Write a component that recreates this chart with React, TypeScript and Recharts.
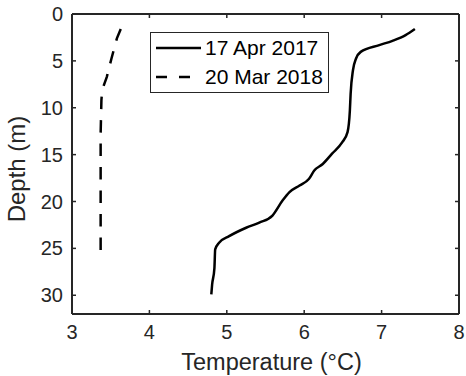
import React from 'react';
import { LineChart, Line, XAxis, YAxis, ReferenceLine } from 'recharts';

// 17 Apr 2017 profile (temperature °C, depth m)
const APR_TEMP = [7.43, 7.31, 7.14, 6.97, 6.73, 6.67, 6.63, 6.6, 6.59, 6.56, 6.49, 6.36, 6.24, 6.13, 6.06, 5.94, 5.81, 5.72, 5.59, 5.42, 5.25, 5.03, 4.9, 4.85, 4.84, 4.81, 4.8];
const APR_DEPTH = [1.6, 2.25, 2.86, 3.32, 4.04, 4.75, 6.0, 8.5, 10.3, 12.6, 13.7, 14.9, 16.0, 16.7, 17.6, 18.3, 19.0, 19.9, 21.5, 22.25, 22.8, 23.7, 24.4, 25.1, 27.1, 28.9, 29.9];

// 20 Mar 2018 profile
const MAR_TEMP = [3.63, 3.58, 3.51, 3.45, 3.39, 3.38, 3.37, 3.37];
const MAR_DEPTH = [1.6, 2.6, 4.75, 6.7, 8.1, 9.2, 12.8, 25.3];

const X_TICKS = [3, 4, 5, 6, 7, 8];
const Y_TICKS = [0, 5, 10, 15, 20, 25, 30];
const X_DOMAIN = [3, 8];
const Y_DOMAIN = [0, 32];

const SERIES_LABELS = ['17 Apr 2017', '20 Mar 2018'];

const FONT = '"Liberation Sans", Arial, Helvetica, sans-serif';
const INK = '#262626';
const AXIS_LINE = { stroke: INK, strokeWidth: 2 };

// plot box (layout only)
const W = 466;
const H = 376;
const M = { top: 14, right: 7, bottom: 0, left: 0 };
const Y_AXIS_W = 72;
const X_AXIS_H = 62;
const PLOT_TOP = M.top;
const PLOT_BOTTOM = H - M.bottom - X_AXIS_H;
const PLOT_LEFT = M.left + Y_AXIS_W;
const PLOT_RIGHT = W - M.right;
const TICK_LEN = 4;

const aprData = APR_TEMP.map((t, i) => ({ t, d: APR_DEPTH[i] }));
const marData = MAR_TEMP.map((t, i) => ({ t, d: MAR_DEPTH[i] }));

const DASH = '12.5 11';

// x tick: label plus inward tick marks on bottom and top edges
const XTick = ({ x, y, payload }: any) => (
  <g>
    <line x1={x} x2={x} y1={PLOT_BOTTOM} y2={PLOT_BOTTOM - TICK_LEN} stroke={INK} strokeWidth={1.5} />
    <line x1={x} x2={x} y1={PLOT_TOP} y2={PLOT_TOP + TICK_LEN} stroke={INK} strokeWidth={1.5} />
    <text x={x} y={y} dy="0.71em" textAnchor="middle" fill={INK} fontSize={20} fontFamily={FONT}>
      {payload.value}
    </text>
  </g>
);

const YTick = ({ x, y, payload }: any) => (
  <g>
    <line x1={PLOT_LEFT} x2={PLOT_LEFT + TICK_LEN} y1={y} y2={y} stroke={INK} strokeWidth={1.5} />
    <line x1={PLOT_RIGHT} x2={PLOT_RIGHT - TICK_LEN} y1={y} y2={y} stroke={INK} strokeWidth={1.5} />
    <text x={x} y={y} dy="0.355em" textAnchor="end" fill={INK} fontSize={20} fontFamily={FONT}>
      {payload.value}
    </text>
  </g>
);

export default function App() {
  return (
    <div style={{ position: 'relative', width: W, height: H, fontFamily: FONT }}>
      <style>{'body{margin:0;background:#fff}'}</style>
      <LineChart width={W} height={H} margin={M}>
        <XAxis xAxisId="x" type="number" dataKey="t" domain={X_DOMAIN} ticks={X_TICKS} allowDataOverflow
          height={X_AXIS_H} tick={<XTick />} axisLine={AXIS_LINE} tickLine={false} tickSize={0} tickMargin={11}
          label={{
            content: ({ viewBox }: any) => (
              <text x={viewBox.x + viewBox.width / 2 + 6} y={370} textAnchor="middle" fill={INK} fontSize={23.5} fontFamily={FONT}>
                Temperature (°C)
              </text>
            ),
          }} />
        <YAxis yAxisId="y" type="number" dataKey="d" domain={Y_DOMAIN} ticks={Y_TICKS} reversed allowDataOverflow
          width={Y_AXIS_W} tick={<YTick />} axisLine={AXIS_LINE} tickLine={false} tickSize={0} tickMargin={9}
          label={{
            content: ({ viewBox }: any) => {
              const cx = 16;
              const cy = viewBox.y + viewBox.height / 2 + 5;
              return (
                <text x={cx} y={cy} transform={`rotate(-90 ${cx} ${cy})`} textAnchor="middle" dominantBaseline="central"
                  fill={INK} fontSize={24} fontFamily={FONT}>
                  Depth (m)
                </text>
              );
            },
          }} />

        {/* top and right edges of the box */}
        <ReferenceLine xAxisId="x" yAxisId="y" y={0} stroke={INK} strokeWidth={2} ifOverflow="visible" />
        <ReferenceLine xAxisId="x" yAxisId="y" x={8} stroke={INK} strokeWidth={2} ifOverflow="visible" />

        <Line data={aprData} xAxisId="x" yAxisId="y" dataKey="d" type="monotone" stroke="#000" strokeWidth={2.5}
          dot={false} activeDot={false} isAnimationActive={false} />
        <Line data={marData} xAxisId="x" yAxisId="y" dataKey="d" type="linear" stroke="#000" strokeWidth={2.5}
          strokeDasharray={DASH} dot={false} activeDot={false} isAnimationActive={false} />
      </LineChart>

      {/* legend box */}
      <div style={{
        position: 'absolute', left: 150, top: 32, width: 177, height: 59,
        border: `1.5px solid ${INK}`, background: '#fff', color: '#000', fontSize: 21, lineHeight: '29px',
      }}>
        {SERIES_LABELS.map((label, i) => (
          <div key={label} style={{ display: 'flex', alignItems: 'center', height: 29, whiteSpace: 'nowrap' }}>
            <svg width={50} height={10} style={{ marginLeft: 4, marginRight: 0 }}>
              <line x1={1} y1={5} x2={46} y2={5} stroke="#000" strokeWidth={2.5}
                strokeDasharray={i === 1 ? '11 12' : undefined} />
            </svg>
            <span>{label}</span>
          </div>
        ))}
      </div>
    </div>
  );
}
